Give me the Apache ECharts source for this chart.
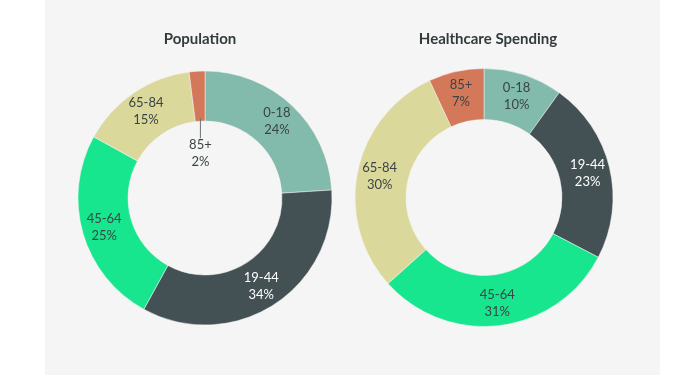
<!DOCTYPE html>
<html>
<head>
<meta charset="utf-8">
<script src="https://cdn.jsdelivr.net/npm/echarts@6/dist/echarts.min.js"></script>
<style>
  html, body { margin: 0; padding: 0; background: #ffffff; }
  #main { position: absolute; left: 45px; top: 0; width: 615px; height: 375px; background: #f4f5f4; }
</style>
</head>
<body>
<div id="main"></div>
<script>
const ageGroups = ["0-18", "19-44", "45-64", "65-84", "85+"];
const populationPct = [24, 34, 25, 15, 2];
const spendingPct = [10, 23, 31, 30, 7];
const sliceColors = ["#82bbab", "#435154", "#17e68f", "#dbd89b", "#d4785a"];
const labelColors = ["#3a4446", "#ffffff", "#3a4446", "#3a4446", "#3a4446"];

var myChart = echarts.init(document.querySelector("#main"));

function buildData(values, smallIndex) {
	return values.map(function (v, i) {
		var item = {
			name: ageGroups[i],
			value: v,
			itemStyle: { color: sliceColors[i] },
			label: { color: labelColors[i] }
		};
		// tiny slice: label pushed into the hole with a short leader line
		if (i === smallIndex) {
			item.label = {
				color: labelColors[i],
				formatter: "{line| }\n{b}\n{c}%",
				offset: [2, 52],
				rich: {
					line: { width: 1, height: 20, backgroundColor: "#6b7476" }
				}
			};
		}
		return item;
	});
}

var labelStyle = {
	show: true,
	position: "inside",
	formatter: "{b}\n{c}%",
	fontFamily: "Lato",
	fontSize: 13,
	lineHeight: 17
};

var option = {
	animation: false,
	title: [
		{
			text: "Population",
			left: 155,
			top: 32,
			padding: 0,
			textAlign: "center",
			textStyle: { fontFamily: "Lato", fontSize: 15, fontWeight: "bold", color: "#333b3d" }
		},
		{
			text: "Healthcare Spending",
			left: 443,
			top: 32,
			padding: 0,
			textAlign: "center",
			textStyle: { fontFamily: "Lato", fontSize: 15, fontWeight: "bold", color: "#333b3d" }
		}
	],
	series: [
		{
			type: "pie",
			center: [160, 198],
			radius: [77, 127],
			startAngle: 90,
			clockwise: true,
			label: labelStyle,
			labelLine: { show: false },
			itemStyle: { borderColor: "#f4f5f4", borderWidth: 0.5 },
			emphasis: { disabled: true },
			data: buildData(populationPct, 4)
		},
		{
			type: "pie",
			center: [439, 197.5],
			radius: [78, 129],
			startAngle: 90,
			clockwise: true,
			label: labelStyle,
			labelLine: { show: false },
			itemStyle: { borderColor: "#f4f5f4", borderWidth: 0.5 },
			emphasis: { disabled: true },
			data: buildData(spendingPct, -1)
		}
	]
};
myChart.setOption(option);
</script>
</body>
</html>
